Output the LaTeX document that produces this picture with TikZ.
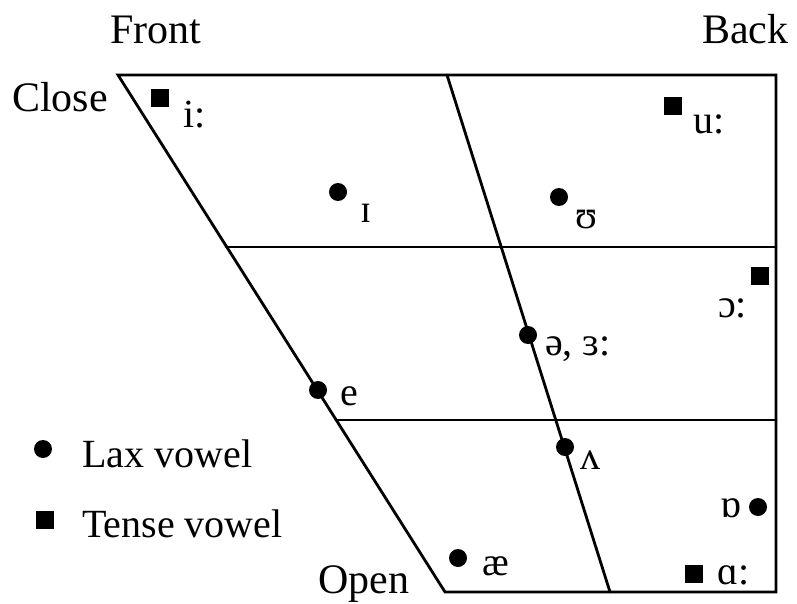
\documentclass[tikz,border=0pt]{standalone}
\usepackage{fontspec}
\setmainfont{Liberation Serif}
\begin{document}
\begin{tikzpicture}[x=1pt,y=-1pt,
  frame/.style={line width=2.8pt,line cap=round,line join=miter},
  lax/.style={circle,fill=black,inner sep=0pt,minimum size=18pt},
  tense/.style={rectangle,fill=black,inner sep=0pt,minimum size=18pt},
  lbl/.style={anchor=base west,inner sep=0pt,font=\fontsize{40}{48}\selectfont},
  big/.style={anchor=base west,inner sep=0pt,font=\fontsize{42}{50}\selectfont}]
\useasboundingbox (0,0) rectangle (797,604);
% frame corners
\coordinate (TL) at (118,75);
\coordinate (TR) at (776,75);
\coordinate (BR) at (776,592);
\coordinate (BL) at (445,592);
\coordinate (TM) at (447,75);
\coordinate (BM) at (610,592);
\coordinate (H1L) at (226,247);
\coordinate (H1R) at (776,247);
\coordinate (H2L) at (336,420);
\coordinate (H2R) at (776,420);
\draw[frame] (TL) -- (TR) -- (BR) -- (BL) -- cycle;
\draw[frame] (TM) -- (BM);
\draw[frame] (H1L) -- (H1R);
\draw[frame] (H2L) -- (H2R);
% headings
\node[big] (front) at (110,44) {Front};
\node[big] (back) at (702,44) {Back};
\node[big] (close) at (12,112) {Close};
\node[big] (open) at (318,593) {Open};
% vowels
\node[tense] (iS) at (160,98) {};
\node[lbl] (iL) at (183,128) {i:};
\node[lax] (ihS) at (338,192) {};
\node[lbl] (ihL) at (360,222) {ɪ};
\node[lax] (uhS) at (559,197) {};
\node[lbl] (uhL) at (575,228) {ʊ};
\node[tense] (uS) at (673,106) {};
\node[lbl] (uL) at (693,134) {u:};
\node[tense] (oS) at (760,276) {};
\node[lbl] (oL) at (718,317) {ɔ:};
\node[lax] (schwaS) at (528,335) {};
\node[lbl] (schwaL) at (545,355) {ə, ɜ:};
\node[lax] (eS) at (318,390) {};
\node[lbl] (eL) at (340,405) {e};
\node[lax] (vS) at (565,447) {};
\node[lbl] (vL) at (580,469) {ʌ};
\node[lax] (ohS) at (758,507) {};
\node[lbl] (ohL) at (720,517) {ɒ};
\node[lax] (aeS) at (458,558) {};
\node[lbl] (aeL) at (482,575) {æ};
\node[tense] (aS) at (694,574) {};
\node[lbl] (aL) at (717,584) {ɑ:};
% legend
\node[lax] (legLax) at (43,449) {};
\node[lbl] (legLaxT) at (82,467) {Lax vowel};
\node[tense] (legTense) at (45,520) {};
\node[lbl] (legTenseT) at (82,537) {Tense vowel};
\end{tikzpicture}
\end{document}
